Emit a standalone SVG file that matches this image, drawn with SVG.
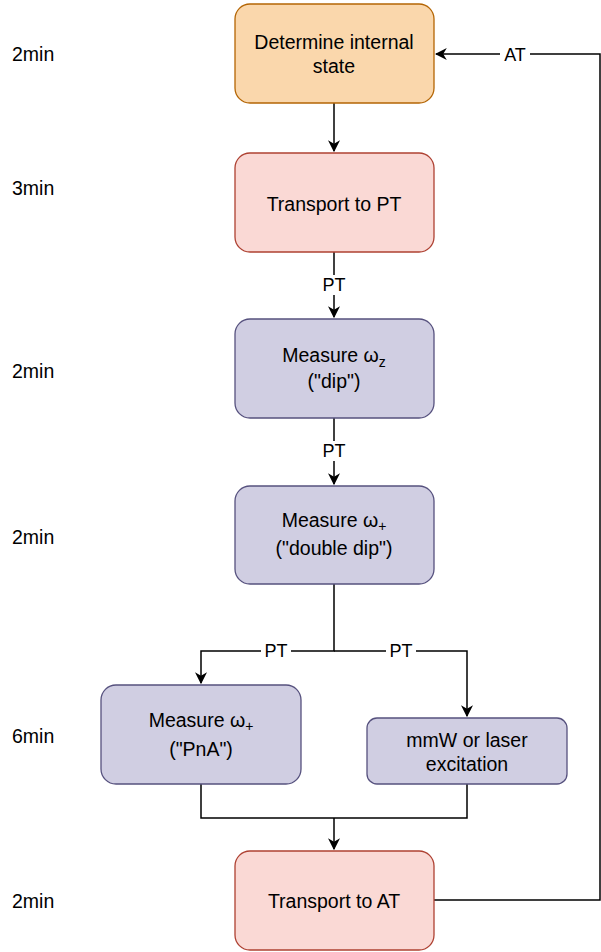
<svg xmlns="http://www.w3.org/2000/svg" width="601" height="952" viewBox="0 0 601 952">
<defs>
<marker id="arr" viewBox="0 0 10 10" refX="9" refY="5" markerWidth="12" markerHeight="12" markerUnits="userSpaceOnUse" orient="auto">
<path d="M0,0 L10,5 L0,10 L3,5 Z" fill="#000"/>
</marker>
<style>
text{font-family:"Liberation Sans",Arial,Helvetica,sans-serif;font-size:19.5px;fill:#000}
.c{text-anchor:middle}
.orange{fill:#fad7ac;stroke:#b46504;stroke-width:1.3}
.red{fill:#fad9d5;stroke:#ae4132;stroke-width:1.3}
.purple{fill:#d0cee2;stroke:#56517e;stroke-width:1.3}
.e{fill:none;stroke:#000;stroke-width:1.5}
.lbl{fill:#fff}
.el{font-size:18px}
.sub{font-size:14px}
</style>
</defs>
<rect width="601" height="952" fill="#fff"/>
<g id="times">
<text x="12" y="61">2min</text>
<text x="12" y="195">3min</text>
<text x="12" y="378">2min</text>
<text x="12" y="544">2min</text>
<text x="12" y="743">6min</text>
<text x="12" y="908">2min</text>
</g>
<g id="connectors">
<path class="e" d="M334,103 V151" marker-end="url(#arr)"/>
<path class="e" d="M334,252 V317" marker-end="url(#arr)"/>
<path class="e" d="M334,418 V484" marker-end="url(#arr)"/>
<path class="e" d="M334,584 V651 H201 V683" marker-end="url(#arr)"/>
<path class="e" d="M334,651 H467 V716" marker-end="url(#arr)"/>
<path class="e" d="M201,784 V818 H467 V784"/>
<path class="e" d="M334,818 V849" marker-end="url(#arr)"/>
<path class="e" d="M434,900 H600 V54 H436" marker-end="url(#arr)"/>
<rect class="lbl" x="319" y="275" width="30" height="20"/>
<text class="c el" x="334" y="291">PT</text>
<rect class="lbl" x="319" y="441" width="30" height="20"/>
<text class="c el" x="334" y="457">PT</text>
<rect class="lbl" x="261" y="641" width="30" height="20"/>
<text class="c el" x="276" y="657">PT</text>
<rect class="lbl" x="386" y="641" width="30" height="20"/>
<text class="c el" x="401" y="657">PT</text>
<rect class="lbl" x="500" y="44" width="30" height="20"/>
<text class="c el" x="515" y="61">AT</text>
</g>
<g id="n1">
<rect class="orange" x="235" y="4" width="199" height="99" rx="15"/>
<text class="c" x="334" y="49">Determine internal</text>
<text class="c" x="334" y="73">state</text>
</g>
<g id="n2">
<rect class="red" x="235" y="153" width="199" height="99" rx="15"/>
<text class="c" x="334" y="211">Transport to PT</text>
</g>
<g id="n3">
<rect class="purple" x="235" y="319" width="199" height="99" rx="15"/>
<text class="c" x="334" y="362">Measure ω<tspan class="sub" dy="5">z</tspan></text>
<text class="c" x="334" y="388">("dip")</text>
</g>
<g id="n4">
<rect class="purple" x="235" y="486" width="199" height="98" rx="15"/>
<text class="c" x="334" y="527">Measure ω<tspan class="sub" dy="4">+</tspan></text>
<text class="c" x="334" y="555">("double dip")</text>
</g>
<g id="n5">
<rect class="purple" x="101" y="685" width="200" height="99" rx="15"/>
<text class="c" x="201" y="727">Measure ω<tspan class="sub" dy="4">+</tspan></text>
<text class="c" x="201" y="756">("PnA")</text>
</g>
<g id="n6">
<rect class="purple" x="367" y="718" width="200" height="66" rx="10"/>
<text class="c" x="467" y="747">mmW or laser</text>
<text class="c" x="467" y="771">excitation</text>
</g>
<g id="n7">
<rect class="red" x="235" y="851" width="199" height="99" rx="15"/>
<text class="c" x="334" y="908">Transport to AT</text>
</g>
</svg>
